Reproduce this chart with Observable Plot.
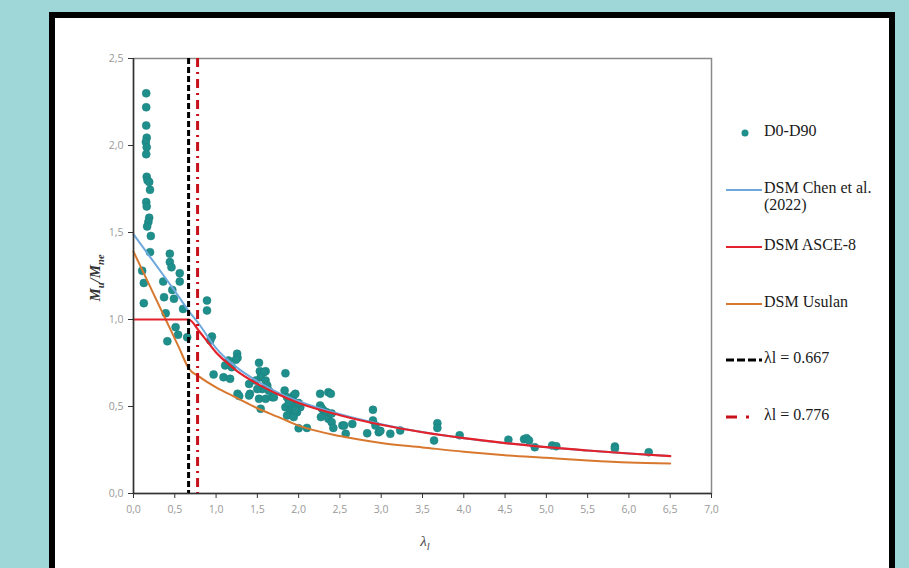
<!DOCTYPE html>
<html>
<head>
<meta charset="utf-8">
<script src="https://cdn.jsdelivr.net/npm/d3@7"></script>
<script src="https://cdn.jsdelivr.net/npm/@observablehq/plot@0.6"></script>
<style>
  html, body { margin: 0; padding: 0; }
  body { width: 909px; height: 568px; background: #9fd6d7; position: relative; overflow: hidden; }
  #panel { position: absolute; left: 49px; top: 12px; width: 846px; height: 600px; box-sizing: border-box;
           border: 6px solid #000; background: #fff; }
  #chart { position: absolute; left: 0; top: 0; }
  .lg { position: absolute; font-family: "Liberation Serif", serif; font-size: 16px; color: #1a1a1a; line-height: 17px; }
  .lgsym { position: absolute; }
  #ylab { position: absolute; left: 96px; top: 278px; transform: translate(-50%, -50%) rotate(-90deg);
          font-family: "Liberation Serif", serif; font-style: italic; font-weight: bold; font-size: 15px; color: #333; white-space: nowrap; }
  #xlab { position: absolute; left: 425px; top: 542px; transform: translate(-50%, -50%);
          font-family: "Liberation Serif", serif; font-style: italic; font-size: 15px; color: #444; white-space: nowrap; }
  sub { font-size: 70%; }
</style>
</head>
<body>
<div id="panel"></div>
<div id="chart"></div>
<div id="ylab">M<sub>u</sub>/M<sub>ne</sub></div>
<div id="xlab">λ<sub>l</sub></div>
<div id="legend"></div>
<script>
// ---- Test data D0-D90 (λl, Mu/Mne) ----
const testLambda = [
  0.154,0.154,0.154,0.16,0.15,0.16,0.154,0.16,0.17,0.19,0.2,0.154,0.16,0.19,0.18,0.165,0.21,0.2,
  0.105,0.125,0.125,0.44,0.44,0.46,0.56,0.36,0.56,0.47,0.37,0.49,0.60,0.39,0.51,0.54,0.41,0.65,
  0.89,0.89,0.95,0.93,1.255,1.26,1.24,1.15,1.11,1.19,0.97,1.09,1.17,1.26,1.28,
  1.52,1.53,1.60,1.58,1.54,1.60,1.48,1.62,1.40,1.41,1.40,1.52,1.60,1.68,1.70,1.54,1.56,1.64,1.50,
  1.84,1.83,1.86,1.94,1.96,1.94,1.84,1.90,1.98,1.86,1.94,2.02,2.00,2.10,1.92,1.88,2.00,1.96,
  2.26,2.36,2.39,2.26,2.30,2.34,2.27,2.36,2.40,2.42,2.53,2.57,2.55,2.65,2.28,2.40,
  2.90,2.90,2.93,2.97,2.99,2.83,3.11,3.23,
  3.68,3.68,3.64,3.95,4.54,4.73,4.76,4.79,4.86,5.07,5.12,5.83,5.83,6.24
];
const testRatio = [
  2.30,2.22,2.115,2.045,2.02,1.99,1.95,1.82,1.80,1.79,1.745,1.675,1.65,1.585,1.56,1.535,1.48,1.387,
  1.28,1.21,1.094,1.378,1.33,1.30,1.266,1.218,1.218,1.17,1.128,1.119,1.061,1.036,0.956,0.912,0.875,0.898,
  1.109,1.052,0.902,0.88,0.803,0.78,0.768,0.764,0.736,0.726,0.684,0.668,0.659,0.573,0.56,
  0.751,0.703,0.703,0.697,0.668,0.649,0.649,0.62,0.63,0.573,0.563,0.544,0.544,0.553,0.553,0.487,0.60,0.59,0.60,
  0.691,0.592,0.553,0.563,0.573,0.525,0.496,0.477,0.467,0.448,0.439,0.496,0.375,0.377,0.50,0.52,0.52,0.48,
  0.573,0.582,0.573,0.506,0.477,0.467,0.439,0.429,0.41,0.377,0.391,0.343,0.391,0.40,0.49,0.46,
  0.481,0.42,0.391,0.352,0.36,0.346,0.343,0.362,
  0.404,0.377,0.305,0.335,0.309,0.312,0.318,0.305,0.266,0.276,0.272,0.27,0.258,0.237
];

// ---- Design curves ----
const chenLambda = [0, 0.2, 0.4, 0.55, 0.667, 0.8, 0.9, 1.0, 1.25, 1.5, 1.75, 2.0, 2.5, 3.0, 3.5, 4.0, 4.5, 5.0, 5.5, 6.0, 6.5];
const chenRatio  = [1.49, 1.36, 1.23, 1.13, 1.05, 0.97, 0.90, 0.835, 0.725, 0.645, 0.58, 0.53, 0.455, 0.398, 0.353, 0.318, 0.29, 0.266, 0.247, 0.23, 0.215];

const asceLambda = [0, 0.667, 0.8, 0.9, 1.0, 1.1, 1.25, 1.5, 1.75, 2.0, 2.5, 3.0, 3.5, 4.0, 4.5, 5.0, 5.5, 6.0, 6.5];
const asceRatio  = [1.0, 1.0, 0.93, 0.87, 0.81, 0.765, 0.705, 0.63, 0.57, 0.52, 0.45, 0.395, 0.352, 0.318, 0.29, 0.266, 0.247, 0.23, 0.215];

const usulanLambda = [0, 0.2, 0.4, 0.55, 0.667, 0.8, 1.0, 1.25, 1.5, 1.75, 2.0, 2.5, 3.0, 3.5, 4.0, 4.5, 5.0, 5.5, 6.0, 6.5];
const usulanRatio  = [1.39, 1.19, 0.99, 0.84, 0.72, 0.67, 0.61, 0.55, 0.49, 0.44, 0.39, 0.33, 0.29, 0.265, 0.24, 0.22, 0.205, 0.19, 0.178, 0.172];

const limitA = [0.667];
const limitB = [0.776];

const xTicks = [0,0.5,1,1.5,2,2.5,3,3.5,4,4.5,5,5.5,6,6.5,7];
const yTicks = [0,0.5,1,1.5,2,2.5];

const legendItems = [
  {label: "D0-D90", kind: "dot", color: "#1f8f8c"},
  {label: "DSM Chen et al.<br>(2022)", kind: "line", color: "#6fa8dc"},
  {label: "DSM ASCE-8", kind: "line", color: "#e3222b"},
  {label: "DSM Usulan", kind: "line", color: "#d8782f"},
  {label: "λl = 0.667", kind: "dash", color: "#000"},
  {label: "λl = 0.776", kind: "dashdot", color: "#c8101a"}
];

// ---- build tables ----
const pts = testLambda.map((x, i) => ({x, y: testRatio[i]}));
const curve = (xs, ys) => xs.map((x, i) => ({x, y: ys[i]}));
const chen = curve(chenLambda, chenRatio);
const asce = curve(asceLambda, asceRatio);
const usulan = curve(usulanLambda, usulanRatio);
const fmt = d => d.toFixed(1).replace(".", ",");

const chart = Plot.plot({
  width: 909, height: 568,
  marginLeft: 133, marginRight: 198, marginTop: 58, marginBottom: 75,
  style: {background: "transparent", fontFamily: "'Open Sans', sans-serif", fontSize: "10.5px"},
  x: {domain: [0, 7]},
  y: {domain: [0, 2.5]},
  marks: [
    Plot.frame({stroke: "#8a8a8a", strokeWidth: 1.5}),
    Plot.dot(pts, {x: "x", y: "y", r: 4, fill: "#1f8f8c", stroke: "#1a7f7c", strokeWidth: 0.5}),
    Plot.line(chen, {x: "x", y: "y", stroke: "#6fa8dc", strokeWidth: 2, curve: "monotone-x"}),
    Plot.line(usulan, {x: "x", y: "y", stroke: "#d8782f", strokeWidth: 2, curve: "monotone-x"}),
    Plot.line(asce, {x: "x", y: "y", stroke: "#e3222b", strokeWidth: 2.2, curve: "monotone-x"}),
    Plot.ruleX(limitA, {stroke: "#000", strokeWidth: 3, strokeDasharray: "6,3"}),
    Plot.ruleX(limitB, {stroke: "#c8101a", strokeWidth: 3, strokeDasharray: "9,5,2,5"}),
    Plot.ruleX([0], {stroke: "#333", strokeWidth: 1.5}),
    Plot.ruleY([0], {stroke: "#333", strokeWidth: 1.5}),
    Plot.axisX({ticks: xTicks, tickFormat: fmt, tickSize: 5, tickPadding: 7, stroke: "#333", fill: "#999", label: null}),
    Plot.axisY({ticks: yTicks, tickFormat: fmt, tickSize: 5, tickPadding: 5, stroke: "#333", fill: "#999", label: null})
  ]
});
document.getElementById("chart").appendChild(chart);

// ---- legend (HTML) ----
const legendY = [131, 188, 245, 302, 358, 415];
const lg = document.getElementById("legend");
legendItems.forEach((it, i) => {
  const y = legendY[i];
  const sym = document.createElement("div");
  sym.className = "lgsym";
  sym.style.left = "726px"; sym.style.top = (y - 6) + "px";
  let inner = "";
  if (it.kind === "dot") inner = `<circle cx="19" cy="6" r="3.5" fill="${it.color}"/>`;
  if (it.kind === "line") inner = `<line x1="0" x2="36" y1="6" y2="6" stroke="${it.color}" stroke-width="2.2"/>`;
  if (it.kind === "dash") inner = `<line x1="0" x2="36" y1="6" y2="6" stroke="${it.color}" stroke-width="3" stroke-dasharray="8,3"/>`;
  if (it.kind === "dashdot") inner = `<line x1="0" x2="11" y1="6" y2="6" stroke="${it.color}" stroke-width="3"/><line x1="20" x2="23" y1="6" y2="6" stroke="${it.color}" stroke-width="3"/>`;
  sym.innerHTML = `<svg width="38" height="12">${inner}</svg>`;
  lg.appendChild(sym);
  const t = document.createElement("div");
  t.className = "lg";
  t.style.left = (it.kind === "dash" || it.kind === "dashdot" ? 764 : 764) + "px";
  t.style.top = (y - 9) + "px";
  t.innerHTML = it.label;
  lg.appendChild(t);
});
</script>
</body>
</html>
